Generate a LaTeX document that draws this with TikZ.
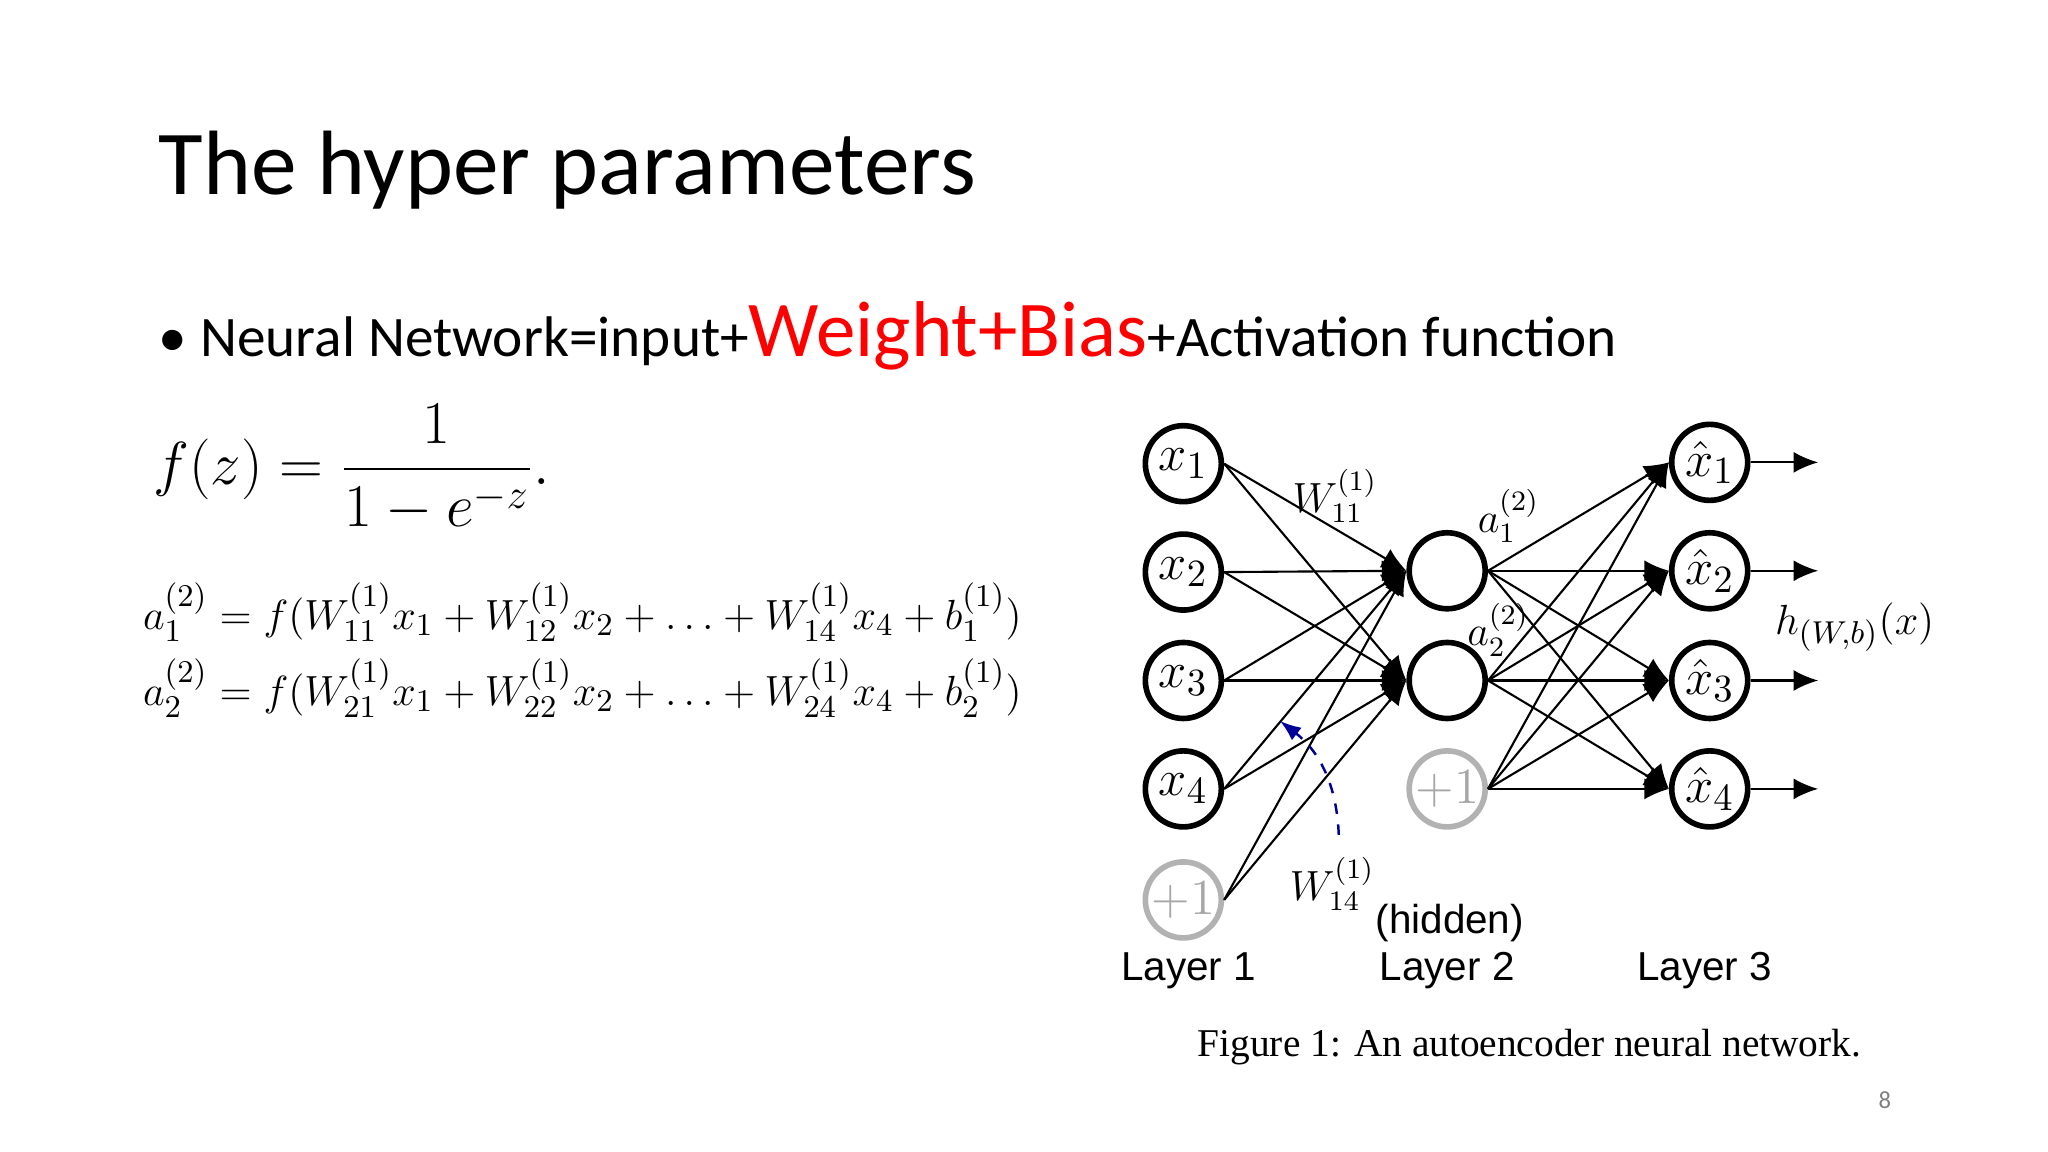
\documentclass[tikz,border=0pt]{standalone}
\usepackage{fontspec}
\usepackage{amsmath}
\setmainfont{Carlito}
\newfontfamily\labfont{Liberation Sans}
\newfontfamily\capfont{Liberation Serif}
\usetikzlibrary{arrows.meta}
\begin{document}
\begin{tikzpicture}[x=0.013061cm,y=-0.013061cm,
unit/.style={circle, draw=black, line width=1.6pt, minimum size=0.76cm, inner sep=0pt, font=\fontsize{15}{15}\selectfont},
bias/.style={unit, draw=gray!60, text=gray!70},
wire/.style={-{Latex[length=7pt,width=6pt]}, line width=0.6pt},
lay/.style={font=\labfont\fontsize{11.5}{11.5}\selectfont},
]
\useasboundingbox (0,0) rectangle (1568,882);
\node[anchor=west, font=\fontsize{26}{26}\selectfont] (title) at (112,130) {The hyper parameters};
\node[anchor=west, font=\fontsize{16.3}{16.3}\selectfont] (bullet) at (112,257)
 {\textbullet\ Neural Network=input+{\color{red}\fontsize{22.5}{22.5}\selectfont Weight+Bias}+Activation function};
\node[anchor=west, font=\fontsize{17}{17}\selectfont] (eqf) at (108,358) {$f(z)=\dfrac{1}{1-e^{-z}}.$};
\node[anchor=west, font=\fontsize{12.9}{12.9}\selectfont, align=left] (eqa) at (100,498)
 {$a_1^{(2)}=f(W_{11}^{(1)}x_1+W_{12}^{(1)}x_2+\ldots+W_{14}^{(1)}x_4+b_1^{(1)})$\\[4pt]
  $a_2^{(2)}=f(W_{21}^{(1)}x_1+W_{22}^{(1)}x_2+\ldots+W_{24}^{(1)}x_4+b_2^{(1)})$};
% layer 1
\foreach \i/\y in {1/355,2/438,3/521,4/604}
  \node[unit] (in\i) at (906,\y) {$x_\i$};
\node[bias] (inb) at (906,689) {$+1$};
% layer 2
\foreach \i/\y in {1/437,2/521}
  \node[unit] (hid\i) at (1108,\y) {};
\node[bias] (hidb) at (1108,604) {$+1$};
% layer 3
\foreach \i/\y in {1/354,2/437,3/521,4/604}{
  \node[unit] (out\i) at (1309,\y) {$\hat{x}_\i$};
  \coordinate (end\i) at (1392,\y);
  \draw[wire] (out\i) -- (end\i);
}
\foreach \s in {in1,in2,in3,in4,inb}
  \foreach \t in {hid1,hid2}
    \draw[wire] (\s.east) -- (\t.west);
\foreach \s in {hid1,hid2,hidb}
  \foreach \t in {out1,out2,out3,out4}
    \draw[wire] (\s.east) -- (\t.west);
\node[font=\fontsize{12}{12}\selectfont] (w11) at (1022,380) {$W_{11}^{(1)}$};
\node[font=\fontsize{12}{12}\selectfont] (w14) at (1020,677) {$W_{14}^{(1)}$};
\node[font=\fontsize{12}{12}\selectfont] (a1) at (1155,395) {$a_1^{(2)}$};
\node[font=\fontsize{12}{12}\selectfont] (a2) at (1147,482) {$a_2^{(2)}$};
\node[font=\fontsize{13}{13}\selectfont] (h) at (1420,480) {$h_{(W,b)}(x)$};
\coordinate (tip) at (980,552);
\draw[-{Latex[length=6pt]}, dashed, blue!60!black, line width=0.7pt] (w14.north) ++(5,-8) to[bend right=25] (tip);
\node[lay] (l1) at (910,743) {Layer 1};
\node[lay] (l2) at (1108,743) {Layer 2};
\node[lay] (hd) at (1110,707) {(hidden)};
\node[lay] (l3) at (1305,743) {Layer 3};
\node[font=\capfont\fontsize{11.2}{11.2}\selectfont] (cap) at (1171,802) {Figure 1: An autoencoder neural network.};
\node[text=gray, font=\fontsize{7}{7}\selectfont] (page) at (1443,842) {8};
\end{tikzpicture}
\end{document}
